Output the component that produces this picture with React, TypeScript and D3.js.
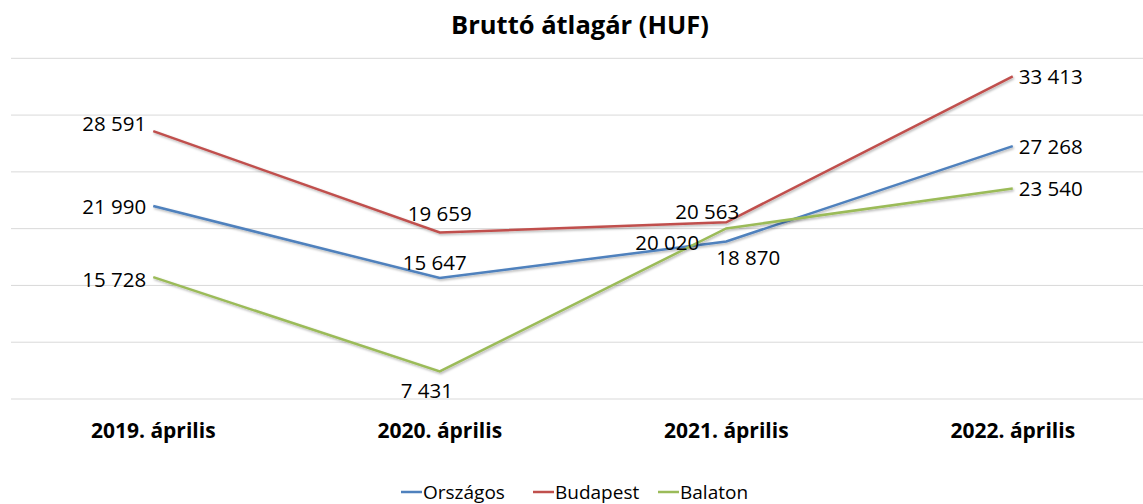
import React from "react";
import * as d3 from "d3";

const categories = ["2019. április", "2020. április", "2021. április", "2022. április"];
const seriesNames = ["Országos", "Budapest", "Balaton"];
const orszagos = [21990, 15647, 18870, 27268];
const budapest = [28591, 19659, 20563, 33413];
const balaton = [15728, 7431, 20020, 23540];
const yTicks = [5000, 10000, 15000, 20000, 25000, 30000, 35000];
const colors = ["#4F81BD", "#C0504D", "#9BBB59"];

// label placement per series per category: [dx, dy, anchor]
const placements: [number, number, string][][] = [
  [[-7, 0, "end"], [-5, -16, "middle"], [22, 16, "middle"], [6, 0, "start"]],
  [[-7, -8, "end"], [0, -20, "middle"], [-19, -11, "middle"], [6, 0, "start"]],
  [[-7, 2, "end"], [-13, 19, "middle"], [-59, 14, "middle"], [6, 0, "start"]],
];

const W = 1143;
const H = 504;
const FONT = "'Open Sans', sans-serif";

export default function App() {
  const x = d3.scaleBand<string>().domain(categories).range([10, 1156]);
  const y = d3.scaleLinear().domain([5000, 35000]).range([399, 58.3]);
  const fmt = (v: number) => d3.format(",")(v).replace(/,/g, " ");
  const cx = (c: string) => (x(c) as number) + x.bandwidth() / 2;
  const data = [orszagos, budapest, balaton];
  const line = d3
    .line<number>()
    .x((_, i) => cx(categories[i]))
    .y((d) => y(d));

  const legendItems = seriesNames.map((n, i) => ({ n, i }));
  const legendX = [401, 533, 658];

  return (
    <svg width={W} height={H} style={{ position: "absolute", left: 0, top: 0, fontFamily: FONT }}>
      <defs>
        <filter id="sh" x="-5%" y="-5%" width="110%" height="120%">
          <feDropShadow dx="1" dy="1.5" stdDeviation="0.8" floodColor="#000" floodOpacity="0.3" />
        </filter>
      </defs>
      <rect width={W} height={H} fill="#fff" />
      <text x={580} y={34} textAnchor="middle" fontWeight="bold" fontSize={25.5} fill="#000">
        Bruttó átlagár (HUF)
      </text>
      {yTicks.map((t) => (
        <line key={t} x1={11} x2={1143} y1={y(t)} y2={y(t)} stroke="#d9d9d9" strokeWidth={1} />
      ))}
      {data.map((s, si) => (
        <path key={si} d={line(s) || ""} fill="none" stroke={colors[si]} strokeWidth={2.5} filter="url(#sh)" />
      ))}
      {data.map((s, si) =>
        s.map((v, ci) => {
          const [dx, dy, anchor] = placements[si][ci];
          return (
            <text
              key={si + "-" + ci}
              x={cx(categories[ci]) + dx}
              y={y(v) + dy}
              textAnchor={anchor as any}
              dominantBaseline="central"
              fontSize={20.5}
              fill="#000"
            >
              {fmt(v)}
            </text>
          );
        })
      )}
      {categories.map((c) => (
        <text key={c} x={cx(c)} y={438} textAnchor="middle" fontWeight="bold" fontSize={21} fill="#000">
          {c}
        </text>
      ))}
      {legendItems.map(({ n, i }) => (
        <g key={n} transform={`translate(${legendX[i]},492)`}>
          <line x1={0} x2={21} y1={0} y2={0} stroke={colors[i]} strokeWidth={2.5} />
          <text x={22} y={7} fontSize={19} fill="#000">
            {n}
          </text>
        </g>
      ))}
    </svg>
  );
}
